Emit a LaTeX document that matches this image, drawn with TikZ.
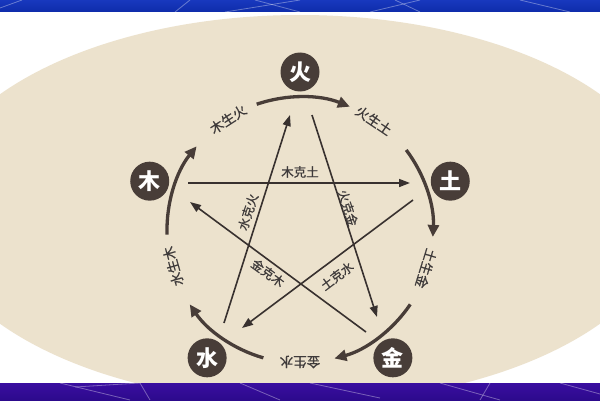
\documentclass[tikz,border=0pt]{standalone}
\usepackage{fontspec}
\newfontfamily\cjk{Noto Sans CJK SC}
\newfontfamily\cjkm[FakeBold=0.6]{Noto Sans CJK SC}
\usetikzlibrary{arrows.meta,calc}
\definecolor{beige}{RGB}{236,226,205}
\definecolor{brownd}{RGB}{72,61,56}
\definecolor{lined}{RGB}{56,49,47}
\definecolor{labelc}{RGB}{62,58,58}
\definecolor{topblueA}{RGB}{24,56,190}
\definecolor{topblueB}{RGB}{14,44,170}
\definecolor{botpurpleA}{RGB}{58,14,160}
\definecolor{botpurpleB}{RGB}{44,10,140}
\begin{document}
\begin{tikzpicture}[x=1pt,y=1pt,
  elem/.style={circle,fill=brownd,minimum size=39pt,inner sep=0pt,text=white,
    font=\cjk\bfseries\fontsize{22}{22}\selectfont},
  sheng/.style={line width=3.3pt,draw=brownd,-{Triangle[length=12pt,width=11pt]}},
  ke/.style={line width=1.6pt,draw=lined,-{Triangle[length=11pt,width=8pt]}},
  lbl/.style={text=labelc,font=\cjkm\fontsize{13.5}{14}\selectfont,inner sep=0.5pt},
  deco/.style={draw=white,opacity=0.35,line width=0.8pt}]
\useasboundingbox (0,0) rectangle (600,400);
% background
\begin{scope}
  \clip (0,0) rectangle (600,400);
  \fill[white] (0,0) rectangle (600,400);
  \fill[beige] (300,191) ellipse [x radius=372, y radius=194];
  \shade[top color=topblueA, bottom color=topblueB] (0,388) rectangle (600,400);
  \shade[top color=botpurpleA, bottom color=botpurpleB] (0,0) rectangle (600,17);
  \draw[deco] (0,392) -- (22,400);
  \draw[deco] (175,388) -- (190,400);
  \draw[deco] (225,388) -- (300,400);
  \draw[deco] (255,400) -- (300,388);
  \draw[deco] (370,388) -- (420,400);
  \draw[deco] (395,400) -- (420,388);
  \draw[deco] (520,400) -- (570,388);
  \draw[deco] (60,17) -- (130,0);
  \draw[deco] (75,13) -- (140,17);
  \draw[deco] (140,17) -- (150,0);
  \draw[deco] (240,17) -- (280,0);
  \draw[deco] (310,17) -- (380,2);
  \draw[deco] (440,17) -- (500,0);
  \draw[deco] (490,17) -- (480,0);
  \draw[deco] (560,17) -- (600,6);
\end{scope}
\coordinate (C) at (300,170);
% element nodes
\node[elem] (huo)  at ($(C)+(90:158)$)  {火};
\node[elem] (tu)   at ($(C)+(18:158)$)  {土};
\node[elem] (jin)  at ($(C)+(-54:158)$) {金};
\node[elem] (shui) at ($(C)+(-126:158)$) {水};
\node[elem] (mu)   at ($(C)+(162:158)$) {木};
% generating cycle
\draw[sheng] ($(C)+(109:133)$) arc[start angle=109,end angle=68,radius=133];
\draw[sheng] ($(C)+(37:133)$) arc[start angle=37,end angle=-3,radius=133];
\draw[sheng] ($(C)+(-34:133)$) arc[start angle=-34,end angle=-75,radius=133];
\draw[sheng] ($(C)+(-106:133)$) arc[start angle=-106,end angle=-146,radius=133];
\draw[sheng] ($(C)+(182:133)$) arc[start angle=182,end angle=141,radius=133];
\node[lbl,rotate=33]   (l1) at ($(C)+(123:132)$) {木生火};
\node[lbl,rotate=-34]  (l2) at ($(C)+(56:132)$)  {火生土};
\node[lbl,rotate=-107] (l3) at ($(C)+(-17:132)$) {土生金};
\node[lbl,rotate=180]  (l4) at ($(C)+(-90:132)$) {金生水};
\node[lbl,rotate=106]  (l5) at ($(C)+(196:132)$) {水生木};
% controlling star
\coordinate (mkS) at (188,217); \coordinate (mkE) at (410,217);
\coordinate (hkS) at (312,285); \coordinate (hkE) at (377,83);
\coordinate (skS) at (224,77);  \coordinate (skE) at (290,285);
\coordinate (jkS) at (366,68);  \coordinate (jkE) at (190,198);
\coordinate (tkS) at (413,200); \coordinate (tkE) at (242,72);
\draw[ke] (mkS) -- (mkE);
\draw[ke] (hkS) -- (hkE);
\draw[ke] (skS) -- (skE);
\draw[ke] (jkS) -- (jkE);
\draw[ke] (tkS) -- (tkE);
\node[lbl,font=\cjkm\fontsize{12.5}{13}\selectfont] (k1) at (300,228) {木克土};
\node[lbl,font=\cjkm\fontsize{12.5}{13}\selectfont,rotate=-72] (k2) at (348,192) {火克金};
\node[lbl,font=\cjkm\fontsize{12.5}{13}\selectfont,rotate=72]  (k3) at (248,188) {水克火};
\node[lbl,font=\cjkm\fontsize{12.5}{13}\selectfont,rotate=-36] (k4) at (268,127) {金克木};
\node[lbl,font=\cjkm\fontsize{12.5}{13}\selectfont,rotate=37]  (k5) at (337,124) {土克水};
\end{tikzpicture}
\end{document}
